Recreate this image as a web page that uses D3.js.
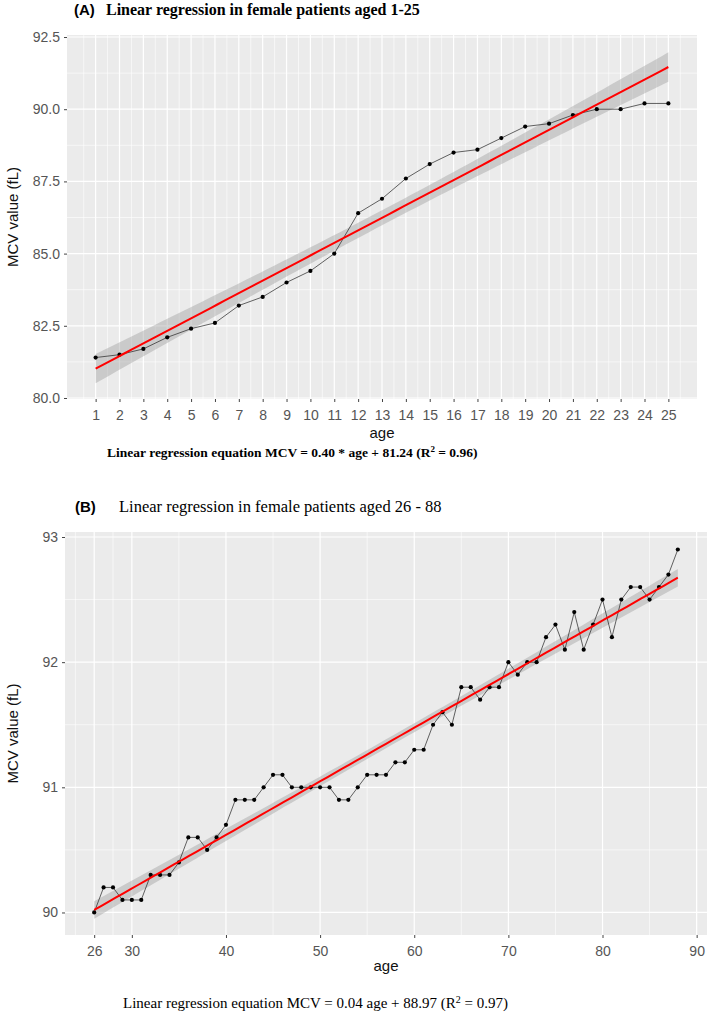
<!DOCTYPE html>
<html>
<head>
<meta charset="utf-8">
<title>MCV linear regression</title>
<script src="https://cdn.jsdelivr.net/npm/d3@7/dist/d3.min.js"></script>
<style>
body { margin: 0; background: #fff; }
svg text { font-family: "Liberation Sans", Arial, sans-serif; }
.serif { font-family: "Liberation Serif", "Times New Roman", serif !important; }
</style>
</head>
<body>
<div id="chart"></div>
<script>
// panel A data: female 1-25
const agesA = d3.range(1, 26);
const mcvA = [81.4, 81.5, 81.7, 82.1, 82.4, 82.6, 83.2, 83.5, 84.0, 84.4, 85.0, 86.4, 86.9,
              87.6, 88.1, 88.5, 88.6, 89.0, 89.4, 89.5, 89.8, 90.0, 90.0, 90.2, 90.2];
const xTicksA = d3.range(1, 26);
const yTicksA = [80.0, 82.5, 85.0, 87.5, 90.0, 92.5];

// panel B data: female 26-88
const agesB = d3.range(26, 89);
const mcvB = [90.0, 90.2, 90.2, 90.1, 90.1, 90.1, 90.3, 90.3, 90.3, 90.4,
              90.6, 90.6, 90.5, 90.6, 90.7, 90.9, 90.9, 90.9, 91.0, 91.1,
              91.1, 91.0, 91.0, 91.0, 91.0, 91.0, 90.9, 90.9, 91.0, 91.1,
              91.1, 91.1, 91.2, 91.2, 91.3, 91.3, 91.5, 91.6, 91.5, 91.8,
              91.8, 91.7, 91.8, 91.8, 92.0, 91.9, 92.0, 92.0, 92.2, 92.3,
              92.1, 92.4, 92.1, 92.3, 92.5, 92.2, 92.5, 92.6, 92.6, 92.5,
              92.6, 92.7, 92.9];
const xTicksB = [26, 30, 40, 50, 60, 70, 80, 90];
const yTicksB = [90, 91, 92, 93];

const W = 709, H = 1013;
const svg = d3.select("#chart").append("svg").attr("width", W).attr("height", H);

// least squares fit with 95% confidence band (like geom_smooth(method = "lm"))
function fitLm(xs, ys, tq) {
    const n = xs.length;
    const mx = d3.mean(xs), my = d3.mean(ys);
    const sxx = d3.sum(xs, x => (x - mx) * (x - mx));
    const sxy = d3.sum(xs, (x, i) => (x - mx) * (ys[i] - my));
    const b = sxy / sxx, a = my - b * mx;
    const rss = d3.sum(xs, (x, i) => Math.pow(ys[i] - (a + b * x), 2));
    const s = Math.sqrt(rss / (n - 2));
    const grid = d3.range(0, 81).map(k => xs[0] + (xs[n - 1] - xs[0]) * k / 80);
    return grid.map(x => {
        const fit = a + b * x;
        const se = s * Math.sqrt(1 / n + (x - mx) * (x - mx) / sxx);
        return { x: x, fit: fit, lo: fit - tq * se, hi: fit + tq * se };
    });
}

function panel(o) {
    const x = d3.scaleLinear().domain(o.xDomain).range([o.left, o.right]);
    const y = d3.scaleLinear().domain(o.yDomain).range([o.bottom, o.top]);
    const g = svg.append("g");

    g.append("rect").attr("x", o.left).attr("y", o.top)
        .attr("width", o.right - o.left).attr("height", o.bottom - o.top)
        .attr("fill", "#EBEBEB");

    // minor grid
    g.selectAll(".mx").data(o.xMinor).enter().append("line")
        .attr("x1", d => x(d)).attr("x2", d => x(d)).attr("y1", o.top).attr("y2", o.bottom)
        .attr("stroke", "#fff").attr("stroke-width", 0.6);
    g.selectAll(".my").data(o.yMinor).enter().append("line")
        .attr("x1", o.left).attr("x2", o.right).attr("y1", d => y(d)).attr("y2", d => y(d))
        .attr("stroke", "#fff").attr("stroke-width", 0.6);
    // major grid
    g.selectAll(".gx").data(o.xTicks).enter().append("line")
        .attr("x1", d => x(d)).attr("x2", d => x(d)).attr("y1", o.top).attr("y2", o.bottom)
        .attr("stroke", "#fff").attr("stroke-width", 1.2);
    g.selectAll(".gy").data(o.yTicks).enter().append("line")
        .attr("x1", o.left).attr("x2", o.right).attr("y1", d => y(d)).attr("y2", d => y(d))
        .attr("stroke", "#fff").attr("stroke-width", 1.2);

    // confidence band + regression line
    const band = fitLm(o.ages, o.mcv, o.tq);
    g.append("path").datum(band)
        .attr("d", d3.area().x(d => x(d.x)).y0(d => y(d.lo)).y1(d => y(d.hi)))
        .attr("fill", "#999").attr("fill-opacity", 0.4);

    // observed means
    const pts = o.ages.map((a, i) => [a, o.mcv[i]]);
    g.append("path").datum(pts)
        .attr("d", d3.line().x(d => x(d[0])).y(d => y(d[1])))
        .attr("fill", "none").attr("stroke", "#222").attr("stroke-width", 0.7);
    g.selectAll(".pt").data(pts).enter().append("circle")
        .attr("cx", d => x(d[0])).attr("cy", d => y(d[1])).attr("r", 2.1)
        .attr("fill", "#000");

    g.append("path").datum(band)
        .attr("d", d3.line().x(d => x(d.x)).y(d => y(d.fit)))
        .attr("fill", "none").attr("stroke", "#FF0000").attr("stroke-width", 2);

    // axes
    const ax = g.append("g").attr("transform", "translate(0," + o.bottom + ")")
        .call(d3.axisBottom(x).tickValues(o.xTicks).tickFormat(d3.format("d")).tickSize(3).tickPadding(8));
    const ay = g.append("g").attr("transform", "translate(" + o.left + ",0)")
        .call(d3.axisLeft(y).tickValues(o.yTicks).tickFormat(o.yFmt).tickSize(3).tickPadding(4));
    [ax, ay].forEach(a => {
        a.select(".domain").remove();
        a.selectAll(".tick line").attr("stroke", "#444");
        a.selectAll(".tick text").attr("fill", "#555").style("font-size", "14px")
            .style("font-family", "'Liberation Sans', Arial, sans-serif");
    });

    g.append("text").attr("x", (o.left + o.right) / 2).attr("y", o.ageY)
        .attr("text-anchor", "middle").attr("fill", "#111").style("font-size", "15px").text("age");
    g.append("text").attr("transform", "translate(18," + (o.top + o.bottom) / 2 + ") rotate(-90)")
        .attr("text-anchor", "middle").attr("fill", "#111").style("font-size", "15px")
        .text("MCV value (fL)");
}

panel({
    left: 67, right: 697, top: 35, bottom: 399,
    xDomain: [-0.2, 26.2], yDomain: [79.965, 92.57],
    xTicks: xTicksA, yTicks: yTicksA,
    xMinor: d3.range(0.5, 26, 1), yMinor: [81.25, 83.75, 86.25, 88.75, 91.25],
    ages: agesA, mcv: mcvA, tq: 2.069, yFmt: d3.format(".1f"), ageY: 438
});

panel({
    left: 65, right: 707, top: 532, bottom: 935,
    xDomain: [22.9, 91.1], yDomain: [89.82, 93.04],
    xTicks: xTicksB, yTicks: yTicksB,
    xMinor: [24, 28, 35, 45, 55, 65, 75, 85], yMinor: [90.5, 91.5, 92.5],
    ages: agesB, mcv: mcvB, tq: 2.0, yFmt: d3.format("d"), ageY: 971
});

// titles and equations
const tA = svg.append("text").attr("x", 74).attr("y", 15);
tA.append("tspan").style("font-weight", "bold").style("font-size", "15px").text("(A)");
tA.append("tspan").attr("class", "serif").attr("x", 106).style("font-weight", "bold")
    .style("font-size", "16px").text("Linear regression in female patients aged 1-25");

const tB = svg.append("text").attr("x", 75).attr("y", 512);
tB.append("tspan").style("font-weight", "bold").style("font-size", "15px").text("(B)");
tB.append("tspan").attr("class", "serif").attr("x", 119)
    .style("font-size", "16.5px").text("Linear regression in female patients aged 26 - 88");

const eA = svg.append("text").attr("class", "serif").attr("x", 107).attr("y", 457)
    .style("font-weight", "bold").style("font-size", "13.5px");
eA.append("tspan").text("Linear regression equation MCV = 0.40 * age + 81.24 (R");
eA.append("tspan").attr("dy", -5).style("font-size", "9px").text("2");
eA.append("tspan").attr("dy", 5).text(" = 0.96)");

const eB = svg.append("text").attr("class", "serif").attr("x", 123).attr("y", 1008)
    .style("font-size", "15px");
eB.append("tspan").text("Linear regression equation MCV = 0.04 age + 88.97 (R");
eB.append("tspan").attr("dy", -5).style("font-size", "10px").text("2");
eB.append("tspan").attr("dy", 5).text(" = 0.97)");
</script>
</body>
</html>
